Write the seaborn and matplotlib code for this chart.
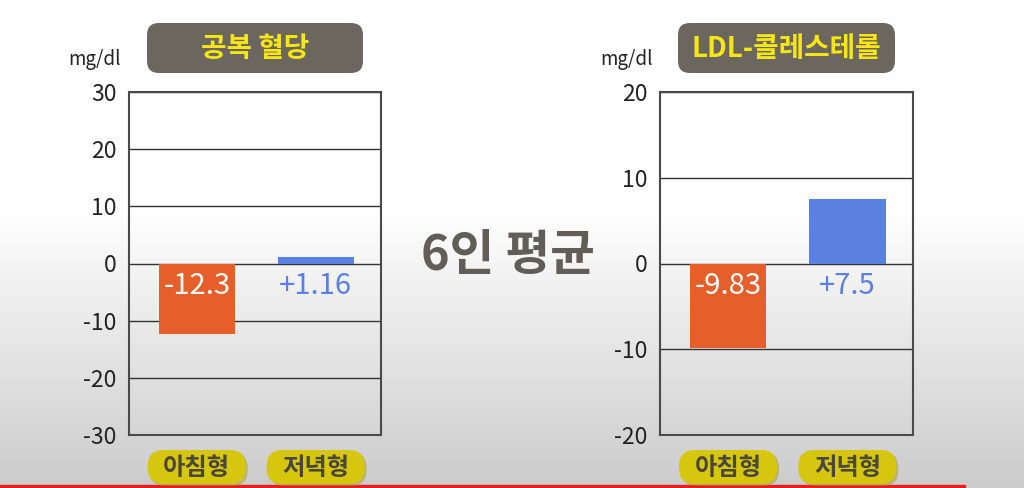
import numpy as np
import matplotlib
matplotlib.use("Agg")
import matplotlib.pyplot as plt
from matplotlib.patches import FancyBboxPatch, Rectangle
import seaborn as sns

sns.set_style("white")
plt.rcParams['font.family'] = ['Noto Sans CJK KR', 'DejaVu Sans']

# data
groups = ['아침형', '저녁형']
glucose = [-12.3, 1.16]
ldl = [-9.83, 7.5]
glucose_labels = ['-12.3', '+1.16']
ldl_labels = ['-9.83', '+7.5']
titles = ['공복 혈당', 'LDL-콜레스테롤']
unit = 'mg/dl'
center_text = '6인 평균'
glucose_ticks = [-30, -20, -10, 0, 10, 20, 30]
ldl_ticks = [-20, -10, 0, 10, 20]

ORANGE = '#e65f2b'
BLUE = '#5a80e2'
TITLE_BG = '#6b665e'
TITLE_FG = '#f7e614'
PILL = '#d6c60e'
PILL_TXT = '#4a473a'
W, H = 1024, 488

fig = plt.figure(figsize=(W / 100, H / 100), dpi=100)

# background axes in pixel units (y down)
bg = fig.add_axes([0, 0, 1, 1])
bg.set_xlim(0, W)
bg.set_ylim(H, 0)
bg.axis('off')
ramp = np.clip((np.arange(H) - 210) / (H - 210), 0, 1)
col = 0.995 - 0.2 * ramp
grad = np.tile(col[:, None], (1, 2))
bg.imshow(grad, extent=[0, W, H, 0], aspect='auto', cmap='gray', vmin=0, vmax=1, zorder=0)
bg.add_patch(Rectangle((0, 485), 965, 3, color='#e3201f', zorder=1))


def draw_panel(rect, values, labels, ticks, title, title_box, unit_xy):
    ax = fig.add_axes(rect)
    ax.set_facecolor('none')
    sns.barplot(x=groups, y=values, hue=groups, palette=[ORANGE, BLUE],
                width=0.64, saturation=1, linewidth=0, edgecolor='none',
                legend=False, ax=ax, zorder=3)
    ax.set_xlim(-0.57, 1.55)
    ax.set_ylim(ticks[0], ticks[-1])
    ax.set_yticks(ticks)
    ax.set_yticklabels([str(t) for t in ticks], fontsize=16.5, color='#222222')
    ax.tick_params(axis='y', length=0, pad=9)
    ax.set_xticks([])
    ax.set_xlabel('')
    ax.set_ylabel('')
    ax.grid(axis='y', color='#333333', linewidth=1.0, zorder=1)
    for s in ax.spines.values():
        s.set_color('#4a4a4a')
        s.set_linewidth(1.5)

    for i, (v, lab) in enumerate(zip(values, labels)):
        ax.annotate(lab, xy=(i, 0), xytext=(0, -22), textcoords='offset pixels',
                    ha='center', va='center', fontsize=21,
                    color='white' if v < 0 else BLUE, zorder=5)

    # title box
    x0, y0, bw, bh = title_box
    bg.add_patch(FancyBboxPatch((x0, y0), bw, bh,
                                boxstyle='round,pad=0,rounding_size=12',
                                facecolor=TITLE_BG, edgecolor='none', zorder=2))
    bg.text(x0 + bw / 2, y0 + bh / 2 + 1, title, ha='center', va='center',
            fontsize=20, fontweight='bold', color=TITLE_FG, zorder=3)
    bg.text(unit_xy[0], unit_xy[1], unit, ha='center', va='center',
            fontsize=13.5, color='#222222', zorder=3)

    # group pills under the bars
    inv = bg.transData.inverted()
    for i, g in enumerate(groups):
        px, _ = inv.transform(ax.transData.transform((i, 0)))
        pw, ph, py = 98, 34, 450
        bg.add_patch(FancyBboxPatch((px - pw / 2 + 2, py + 2), pw, ph,
                                    boxstyle='round,pad=0,rounding_size=16',
                                    facecolor='#a89a20', edgecolor='none',
                                    alpha=0.5, zorder=2))
        bg.add_patch(FancyBboxPatch((px - pw / 2, py), pw, ph,
                                    boxstyle='round,pad=0,rounding_size=16',
                                    facecolor=PILL, edgecolor='none', zorder=3))
        bg.text(px, py + ph / 2 + 1, g, ha='center', va='center', fontsize=17.5,
                fontweight='bold', color=PILL_TXT, zorder=4)
    return ax


bottom = (H - 435) / H
height = (435 - 92) / H
draw_panel([129 / W, bottom, 252 / W, height], glucose, glucose_labels,
           glucose_ticks, titles[0], (147, 23, 216, 50), (94, 60))
draw_panel([660 / W, bottom, 253 / W, height], ldl, ldl_labels,
           ldl_ticks, titles[1], (678, 23, 217, 50), (626, 60))

bg.text(508, 256, center_text, ha='center', va='center', fontsize=35,
        fontweight='bold', color='#625d56', zorder=3)

fig.savefig('out.png', dpi=100)
